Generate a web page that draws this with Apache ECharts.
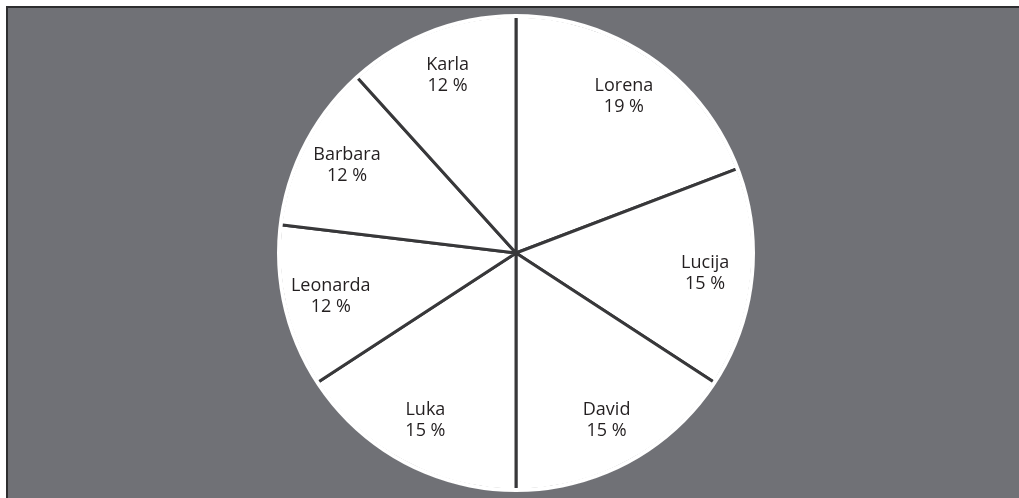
<!DOCTYPE html>
<html>
<head>
<meta charset="utf-8">
<script src="https://cdn.jsdelivr.net/npm/echarts@6/dist/echarts.min.js"></script>
<style>
  html, body { margin: 0; padding: 0; background: #fff; }
  #wrap { position: absolute; left: 6px; top: 6px; width: 1013px; height: 492px;
    border-top: 2px solid #2e2e30; border-left: 2px solid #2e2e30; background: #707176; }
  #chart { width: 1011px; height: 490px; }
</style>
</head>
<body>
<div id="wrap"><div id="chart"></div></div>
<script>
// names clockwise from 12 o'clock
var names = ['Lorena', 'Lucija', 'David', 'Luka', 'Leonarda', 'Barbara', 'Karla']
var values = [19.2, 15.0, 15.8, 15.8, 11.1, 11.4, 11.7]
// percentages printed on the chart
var pctLabels = ['19 %', '15 %', '15 %', '15 %', '12 %', '12 %', '12 %']

var R = 237
var center = [508, 245]
var data = names.map(function (n, i) { return { name: n, value: values[i] } })

var myChart = echarts.init(document.getElementById('chart'))
var option = {
  animation: false,
  series: [
    {
      type: 'pie',
      center: center,
      radius: [0, R],
      startAngle: 90,
      clockwise: true,
      silent: true,
      itemStyle: { color: '#ffffff', borderColor: '#38383a', borderWidth: 3 },
      label: { show: false },
      labelLine: { show: false },
      data: data
    },
    {
      // white ring hides the dark outline on the outer arc
      type: 'pie',
      center: center,
      radius: [R - 2, R + 2],
      silent: true,
      itemStyle: { color: '#ffffff', borderWidth: 0 },
      label: { show: false },
      labelLine: { show: false },
      data: [{ name: 'ring', value: 1 }]
    },
    {
      // transparent carrier so inside labels sit at ~0.79 R
      type: 'pie',
      center: center,
      radius: [R * 0.58, R],
      startAngle: 90,
      clockwise: true,
      silent: true,
      itemStyle: { color: 'rgba(0,0,0,0)', borderWidth: 0 },
      label: {
        show: true,
        position: 'inside',
        color: '#231f20',
        fontFamily: 'Open Sans',
        fontSize: 18,
        lineHeight: 21,
        formatter: function (p) { return p.name + '\n' + pctLabels[p.dataIndex] }
      },
      labelLine: { show: false },
      data: data
    }
  ]
}
myChart.setOption(option)
</script>
</body>
</html>
